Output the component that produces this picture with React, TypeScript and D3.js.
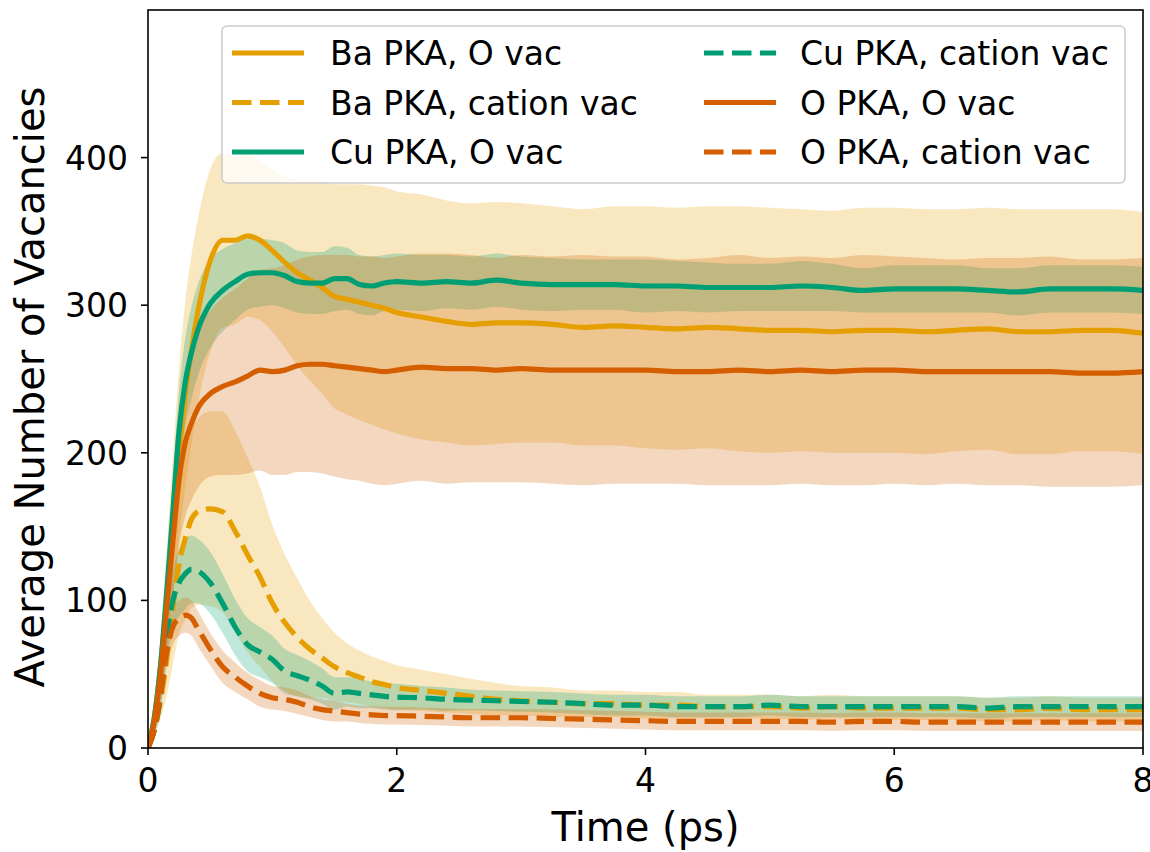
import React from "react";
import * as d3 from "d3";

const TIME = [0, 0.05, 0.1, 0.15, 0.2, 0.25, 0.3, 0.35, 0.4, 0.5, 0.6, 0.7, 0.8, 0.9, 1.0, 1.1, 1.2, 1.3, 1.4, 1.5, 1.6, 1.7, 1.8, 1.9, 2.0, 2.2, 2.4, 2.6, 2.8, 3.0, 3.25, 3.5, 3.75, 4.0, 4.25, 4.5, 4.75, 5.0, 5.25, 5.5, 5.75, 6.0, 6.25, 6.5, 6.75, 7.0, 7.25, 7.5, 7.75, 8.0];

const BA_OVAC_MEAN = [0, 20, 55, 100, 150, 200, 240, 270, 295, 330, 344, 344, 347, 344, 337, 329, 322, 317, 312, 306, 304, 302, 300, 298, 295, 292, 289, 287, 288, 288, 287, 285, 286, 285, 284, 285, 284, 283, 283, 282, 283, 283, 282, 283, 284, 282, 282, 283, 283, 281];
const BA_OVAC_STD = [0, 8, 20, 35, 48, 58, 63, 64, 63, 62, 59, 57, 55, 54, 55, 58, 63, 68, 72, 76, 78, 80, 81, 82, 82, 83, 82, 82, 82, 81, 80, 80, 81, 82, 82, 82, 83, 83, 82, 82, 83, 83, 83, 82, 82, 83, 83, 82, 82, 82];

const BA_CAT_MEAN = [0, 12, 32, 60, 95, 125, 142, 155, 160, 162, 160, 147, 131, 116, 98, 85, 75, 67, 61, 55, 51, 48, 45, 43, 41, 39, 37, 35, 33, 32, 31, 30, 30, 29, 29, 28, 28, 28, 27, 28, 27, 27, 27, 27, 26, 26, 27, 26, 26, 26];
const BA_CAT_STD = [0, 4, 12, 25, 38, 48, 55, 60, 63, 66, 68, 68, 66, 61, 53, 46, 40, 33, 27, 23, 20, 18, 17, 16, 15, 14, 13, 12, 11, 10, 10, 9, 9, 9, 9, 8, 8, 8, 8, 8, 8, 8, 8, 8, 8, 8, 8, 8, 8, 8];

const CU_OVAC_MEAN = [0, 20, 55, 105, 160, 215, 248, 268, 283, 301, 310, 316, 321, 322, 322, 320, 316, 315, 315, 318, 318, 314, 313, 315, 316, 315, 316, 315, 317, 315, 314, 314, 314, 313, 313, 312, 312, 312, 313, 312, 310, 311, 311, 311, 310, 309, 311, 311, 311, 310];
const CU_OVAC_STD = [0, 4, 10, 16, 22, 27, 30, 31, 31, 30, 28, 26, 24, 23, 22, 22, 21, 21, 21, 22, 21, 20, 20, 19, 19, 19, 18, 18, 18, 18, 18, 17, 17, 18, 17, 17, 16, 16, 17, 16, 15, 16, 16, 16, 15, 16, 16, 16, 16, 16];

const CU_CAT_MEAN = [0, 12, 35, 75, 100, 112, 118, 121, 120, 112, 98, 82, 70, 65, 60, 52, 49, 46, 42, 37, 38, 37, 36, 35, 34.5, 34, 33, 32.5, 32, 31.5, 31, 30, 29, 29, 28, 28, 28, 29, 28, 28, 28, 28, 28, 28, 27, 28, 28, 28, 28, 28];
const CU_CAT_STD = [0, 4, 10, 16, 20, 23, 24, 23, 22, 21, 20, 19, 18, 17, 16, 15, 14, 13, 12, 11, 10, 10, 9, 9, 9, 8, 8, 7, 7, 7, 7, 7, 7, 7, 7, 7, 7, 7, 7, 7, 7, 7, 7, 7, 7, 7, 7, 7, 7, 7];

const O_OVAC_MEAN = [0, 18, 50, 95, 140, 182, 207, 220, 230, 240, 245, 248, 252, 256, 255, 256, 259, 260, 260, 259, 258, 257, 256, 255, 256, 258, 257, 257, 256, 257, 256, 256, 256, 256, 255, 255, 256, 255, 256, 255, 256, 256, 255, 255, 255, 255, 255, 254, 254, 255];
const O_OVAC_STD = [0, 6, 16, 28, 38, 45, 50, 52, 54, 56, 60, 63, 66, 68, 70, 71, 72, 73, 74, 75, 76, 76, 77, 77, 77, 77, 78, 77, 76, 77, 77, 78, 77, 77, 76, 77, 78, 77, 77, 77, 78, 77, 77, 76, 77, 77, 78, 77, 77, 77];

const O_CAT_MEAN = [0, 12, 35, 65, 82, 88, 90, 88, 81, 67, 55, 48, 42, 37, 34, 33, 31, 28, 26, 25, 24, 23, 22.5, 22, 22, 21.5, 21, 20.5, 20.5, 20.5, 20, 19.5, 19, 18.5, 18, 18, 18, 18, 18, 17.5, 18, 18, 17.5, 17.5, 17.5, 17.5, 17.5, 17.5, 17.5, 17.5];
const O_CAT_STD = [0, 3, 7, 10, 12, 12, 12, 12, 12, 11, 11, 10, 9, 9, 8, 8, 8, 7, 7, 7, 6, 6, 6, 6, 6, 6, 6, 6, 6, 6, 6, 6, 6, 6, 6, 6, 6, 6, 6, 6, 6, 6, 6, 6, 6, 6, 6, 6, 6, 6];

const X_TICKS = [0, 2, 4, 6, 8];
const Y_TICKS = [0, 100, 200, 300, 400];
const X_LABEL = "Time (ps)";
const Y_LABEL = "Average Number of Vacancies";

const SERIES = [
  { label: "Ba PKA, O vac", color: "#E69F00", dashed: false, mean: BA_OVAC_MEAN, std: BA_OVAC_STD },
  { label: "Ba PKA, cation vac", color: "#E69F00", dashed: true, mean: BA_CAT_MEAN, std: BA_CAT_STD },
  { label: "Cu PKA, O vac", color: "#009E73", dashed: false, mean: CU_OVAC_MEAN, std: CU_OVAC_STD },
  { label: "Cu PKA, cation vac", color: "#009E73", dashed: true, mean: CU_CAT_MEAN, std: CU_CAT_STD },
  { label: "O PKA, O vac", color: "#D55E00", dashed: false, mean: O_OVAC_MEAN, std: O_OVAC_STD },
  { label: "O PKA, cation vac", color: "#D55E00", dashed: true, mean: O_CAT_MEAN, std: O_CAT_STD },
];

const FONT = "DejaVu Sans, Liberation Sans, sans-serif";
const LW = 5.2;
const DASH = "19.5 8.5";

export default function App() {
  const left = 148, right = 1143, top = 10, bottom = 748;
  const x = d3.scaleLinear().domain([0, 8]).range([left, right]);
  const y = d3.scaleLinear().domain([0, 500]).range([bottom, top]);

  const area = (s: any) =>
    d3.area<number>()
      .x((_, i) => x(TIME[i]))
      .y0((_, i) => y(Math.max(0, s.mean[i] - s.std[i])))
      .y1((_, i) => y(s.mean[i] + s.std[i]))
      .curve(d3.curveMonotoneX)(s.mean) || "";

  const line = (s: any) =>
    d3.line<number>()
      .x((_, i) => x(TIME[i]))
      .y((d) => y(d))
      .curve(d3.curveMonotoneX)(s.mean) || "";

  // legend layout
  const legX = 222, legY = 26, legW = 903, legH = 157;
  const rowY = [53, 102.5, 152];
  const colHandle = [[232, 304], [704, 776]];
  const colText = [330, 800];

  return (
    <svg width={1150} height={852} style={{ position: "absolute", left: 0, top: 0, background: "#fff" }} fontFamily={FONT}>
      <defs>
        <clipPath id="plotclip">
          <rect x={left} y={top} width={right - left} height={bottom - top} />
        </clipPath>
      </defs>
      <rect x={0} y={0} width={1150} height={852} fill="#fff" />
      <g clipPath="url(#plotclip)">
        {SERIES.map((s, i) => (
          <path key={"a" + i} d={area(s)} fill={s.color} fillOpacity={0.25} stroke="none" />
        ))}
        {SERIES.map((s, i) => (
          <path key={"l" + i} d={line(s)} fill="none" stroke={s.color} strokeWidth={LW}
            strokeDasharray={s.dashed ? DASH : undefined} strokeLinejoin="round" strokeLinecap={s.dashed ? "butt" : "square"} />
        ))}
      </g>
      {/* frame */}
      <rect x={left} y={top} width={right - left} height={bottom - top} fill="none" stroke="#000" strokeWidth={1.6} />
      {/* x ticks */}
      {X_TICKS.map((t) => (
        <g key={"xt" + t}>
          <line x1={x(t)} x2={x(t)} y1={bottom} y2={bottom + 7} stroke="#000" strokeWidth={1.6} />
          <text x={x(t)} y={792} fontSize={33} textAnchor="middle" fill="#000">{t}</text>
        </g>
      ))}
      {/* y ticks */}
      {Y_TICKS.map((t) => (
        <g key={"yt" + t}>
          <line x1={left - 7} x2={left} y1={y(t)} y2={y(t)} stroke="#000" strokeWidth={1.6} />
          <text x={128} y={y(t) + 12} fontSize={33} textAnchor="end" fill="#000">{t}</text>
        </g>
      ))}
      <text x={(left + right) / 2} y={841} fontSize={40} textAnchor="middle" fill="#000">{X_LABEL}</text>
      <text transform={`translate(44,${(top + bottom) / 2 + 8}) rotate(-90)`} fontSize={40} textAnchor="middle" fill="#000">{Y_LABEL}</text>
      {/* legend */}
      <rect x={legX} y={legY} width={legW} height={legH} rx={5} ry={5} fill="#fff" fillOpacity={0.8} stroke="#cccccc" strokeWidth={1.6} />
      {SERIES.map((s, i) => {
        const col = Math.floor(i / 3);
        const row = i % 3;
        const [h0, h1] = colHandle[col];
        return (
          <g key={"lg" + i}>
            <line x1={h0} x2={h1} y1={rowY[row]} y2={rowY[row]} stroke={s.color} strokeWidth={LW}
              strokeDasharray={s.dashed ? DASH : undefined} />
            <text x={colText[col]} y={rowY[row] + 12} fontSize={33} fill="#000">{s.label}</text>
          </g>
        );
      })}
    </svg>
  );
}
